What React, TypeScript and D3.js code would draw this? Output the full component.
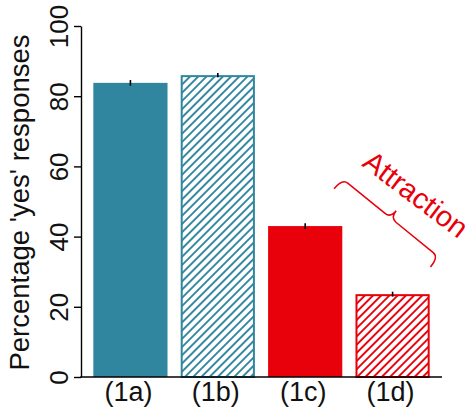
import React, { Component } from 'react';
import * as d3 from 'd3';

// values
const categories = ['(1a)', '(1b)', '(1c)', '(1d)'];
const yesPercent = [83.8, 86.0, 43.0, 23.6];
const errors = [0.8, 0.6, 0.8, 0.7];
const groups = ['control', 'control', 'attraction', 'attraction'];
const fills = ['solid', 'hatched', 'solid', 'hatched'];
const yTicks = [0, 20, 40, 60, 80, 100];
const yTitle = "Percentage 'yes' responses";
const annotation = 'Attraction';

const FONT = '"Liberation Sans", Arial, Helvetica, sans-serif';

class App extends Component {
  componentDidMount() {
    this.createChart();
  }
  componentDidUpdate() {
    this.createChart();
  }
  createChart = () => {
    d3.select('#chart svg').remove();
    const width = 472;
    const height = 412;
    const left = 81;
    const right = 442;
    const top = 26;
    const bottom = 377;

    const data = categories.map((c, i) => ({
      name: c,
      value: yesPercent[i],
      err: errors[i],
      group: groups[i],
      fill: fills[i],
    }));

    const x = d3.scaleBand()
      .domain(categories)
      .range([left, right])
      .paddingInner(0.151)
      .paddingOuter(0.141);
    const y = d3.scaleLinear().domain([0, 100]).range([bottom, top]);
    const color = d3.scaleOrdinal<string, string>()
      .domain(['control', 'attraction'])
      .range(['#31869f', '#e8000b']);

    const svg = d3.select('#chart')
      .append('svg')
      .attr('width', width)
      .attr('height', height)
      .style('display', 'block')
      .style('font-family', FONT);

    const defs = svg.append('defs');
    color.domain().forEach((g) => {
      const s = 5.8;
      defs.append('pattern')
        .attr('id', 'hatch-' + g)
        .attr('patternUnits', 'userSpaceOnUse')
        .attr('width', s)
        .attr('height', s)
        .attr('patternTransform', 'rotate(45)')
        .append('line')
        .attr('x1', s / 2).attr('x2', s / 2)
        .attr('y1', 0).attr('y2', s)
        .attr('stroke', color(g))
        .attr('stroke-width', 1.9);
    });

    const bw = x.bandwidth();
    // bars
    svg.append('g')
      .selectAll('rect')
      .data(data)
      .enter().append('rect')
      .attr('x', (d) => (d.fill === 'hatched' ? x(d.name)! + 1 : x(d.name)!))
      .attr('y', (d) => (d.fill === 'hatched' ? y(d.value) + 1 : y(d.value)))
      .attr('width', (d) => (d.fill === 'hatched' ? bw - 2 : bw))
      .attr('height', (d) => (d.fill === 'hatched' ? y(0) - y(d.value) - 1 : y(0) - y(d.value)))
      .attr('fill', (d) => (d.fill === 'hatched' ? 'url(#hatch-' + d.group + ')' : color(d.group)))
      .attr('stroke', (d) => color(d.group))
      .attr('stroke-width', (d) => (d.fill === 'hatched' ? 2 : 0));

    // error bars
    svg.append('g')
      .selectAll('line')
      .data(data)
      .enter().append('line')
      .attr('x1', (d) => x(d.name)! + bw / 2)
      .attr('x2', (d) => x(d.name)! + bw / 2)
      .attr('y1', (d) => y(d.value - d.err))
      .attr('y2', (d) => y(d.value + d.err))
      .attr('stroke', '#000')
      .attr('stroke-width', 1.6);

    // y axis
    const yAxis = d3.axisLeft(y)
      .tickValues(yTicks)
      .tickFormat(d3.format('d'))
      .tickSize(7)
      .tickSizeOuter(0);
    const ya = svg.append('g')
      .attr('transform', 'translate(' + left + ',0)')
      .call(yAxis);
    ya.select('.domain').attr('stroke-width', 1.4);
    ya.selectAll('.tick line').attr('stroke-width', 1.4);
    ya.selectAll('.tick text')
      .attr('x', null)
      .attr('dy', null)
      .attr('transform', 'translate(-13,0) rotate(-90)')
      .attr('text-anchor', 'middle')
      .attr('fill', '#111')
      .style('font-size', '26px')
      .style('font-family', FONT);

    // x axis line
    svg.append('line')
      .attr('x1', left - 0.7).attr('x2', right)
      .attr('y1', bottom).attr('y2', bottom)
      .attr('stroke', '#000')
      .attr('stroke-width', 1.6);

    // x labels
    svg.append('g')
      .selectAll('text')
      .data(categories)
      .enter().append('text')
      .attr('x', (d) => x(d)! + bw / 2 - 2)
      .attr('y', 401)
      .attr('text-anchor', 'middle')
      .attr('fill', '#111')
      .style('font-size', '27px')
      .text((d) => d);

    // y title
    svg.append('text')
      .attr('transform', 'translate(29,' + (top + bottom + 2) / 2 + ') rotate(-90)')
      .attr('text-anchor', 'middle')
      .attr('fill', '#111')
      .style('font-size', '27.5px')
      .text(yTitle);

    // brace over (1c)-(1d)
    const x0 = x('(1c)')! + bw;
    const y0 = y(56.5);
    const x1 = x('(1d)')! + bw + 9;
    const y1 = y(34.2);
    const L = Math.hypot(x1 - x0, y1 - y0);
    const ang = (Math.atan2(y1 - y0, x1 - x0) * 180) / Math.PI;
    const h = 13;
    const c = 9;
    const r = 7;
    const path = d3.path();
    path.moveTo(0, h);
    path.quadraticCurveTo(0, 0, r, 0);
    path.lineTo(L / 2 - r, 0);
    path.quadraticCurveTo(L / 2, 0, L / 2, -c);
    path.quadraticCurveTo(L / 2, 0, L / 2 + r, 0);
    path.lineTo(L - r, 0);
    path.quadraticCurveTo(L, 0, L, h);
    svg.append('path')
      .attr('d', path.toString())
      .attr('transform', 'translate(' + x0 + ',' + y0 + ') rotate(' + ang + ')')
      .attr('fill', 'none')
      .attr('stroke', color('attraction'))
      .attr('stroke-width', 1.5);

    svg.append('text')
      .attr('transform', 'translate(' + (x0 + x1) / 2 + ',' + (y0 + y1) / 2 + ') rotate(' + (ang - 2) + ') translate(6,-24)')
      .attr('text-anchor', 'middle')
      .attr('fill', color('attraction'))
      .style('font-size', '29px')
      .text(annotation);
  };
  render() {
    return <div id='chart' style={{ position: 'absolute', left: 0, top: 0 }}></div>;
  }
}

export default App;
